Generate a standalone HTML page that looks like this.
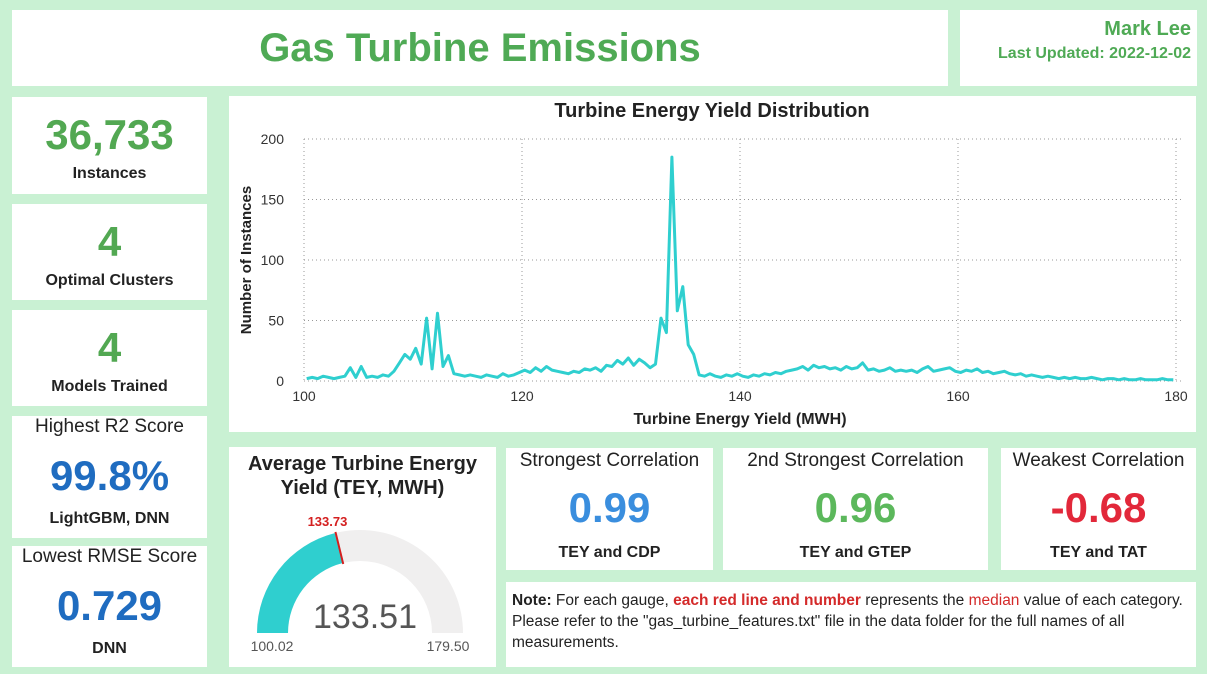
<!DOCTYPE html>
<html><head><meta charset="utf-8"><style>
body{margin:0;width:1207px;height:674px;background:#c9f1d3;font-family:"Liberation Sans","DejaVu Sans",sans-serif;position:relative;overflow:hidden}
.p{position:absolute;background:#fff}
.c{text-align:center}
.big{font-weight:bold;color:#52a852}
.lbl{font-weight:bold;font-size:16px;color:#222}
</style></head><body>
<div class="p c" style="left:12px;top:10px;width:936px;height:76px">
<div class="big" style="font-size:40px;line-height:76px;color:#4faa55">Gas Turbine Emissions</div></div>
<div class="p" style="left:960px;top:10px;width:237px;height:76px;text-align:right">
<div style="font-weight:bold;color:#4faa55;font-size:20px;margin:8px 6px 0 0">Mark Lee</div>
<div style="font-weight:bold;color:#4faa55;font-size:16px;margin:4px 6px 0 0">Last Updated: 2022-12-02</div></div>

<div class="p c" style="left:12px;top:97px;width:195px;height:97px"><div class="big" style="font-size:42px;margin-top:14px">36,733</div><div class="lbl" style="margin-top:6px">Instances</div></div>
<div class="p c" style="left:12px;top:204px;width:195px;height:96px"><div class="big" style="font-size:42px;margin-top:14px">4</div><div class="lbl" style="margin-top:6px">Optimal Clusters</div></div>
<div class="p c" style="left:12px;top:310px;width:195px;height:96px"><div class="big" style="font-size:42px;margin-top:14px">4</div><div class="lbl" style="margin-top:6px">Models Trained</div></div>
<div class="p c" style="left:12px;top:416px;width:195px;height:122px"><div style="font-size:19px;color:#222;margin-top:0px">Highest R2 Score</div><div style="font-size:42px;font-weight:bold;color:#1f6cc0;margin-top:14px">99.8%</div><div class="lbl" style="margin-top:10px">LightGBM, DNN</div></div>
<div class="p c" style="left:12px;top:546px;width:195px;height:121px"><div style="font-size:19px;color:#222;margin-top:0px">Lowest RMSE Score</div><div style="font-size:42px;font-weight:bold;color:#1f6cc0;margin-top:14px">0.729</div><div class="lbl" style="margin-top:10px">DNN</div></div>

<div class="p" style="left:229px;top:96px;width:967px;height:336px"><svg id="hist" width="967" height="336"></svg></div>

<div class="p c" style="left:229px;top:447px;width:267px;height:220px">
<div style="font-weight:bold;font-size:20px;color:#222;margin-top:5px;line-height:24px">Average Turbine Energy<br>Yield (TEY, MWH)</div>
<svg id="gauge" width="267" height="170" style="position:absolute;left:0;top:50px"></svg></div>

<div class="p c" style="left:506px;top:448px;width:207px;height:122px"><div style="font-size:19px;color:#222;margin-top:2px">Strongest Correlation</div><div style="font-size:42px;font-weight:bold;color:#3a8ede;margin-top:12px">0.99</div><div class="lbl" style="margin-top:12px">TEY and CDP</div></div>
<div class="p c" style="left:723px;top:448px;width:265px;height:122px"><div style="font-size:19px;color:#222;margin-top:2px">2nd Strongest Correlation</div><div style="font-size:42px;font-weight:bold;color:#5cb85c;margin-top:12px">0.96</div><div class="lbl" style="margin-top:12px">TEY and GTEP</div></div>
<div class="p c" style="left:1001px;top:448px;width:195px;height:122px"><div style="font-size:19px;color:#222;margin-top:2px">Weakest Correlation</div><div style="font-size:42px;font-weight:bold;color:#e2283a;margin-top:12px">-0.68</div><div class="lbl" style="margin-top:12px">TEY and TAT</div></div>

<div class="p" style="left:506px;top:582px;width:690px;height:85px;font-size:15.5px;line-height:21px;color:#222">
<div style="padding:8px 6px 0 6px"><b>Note:</b> For each gauge, <b style="color:#d42a2a">each red line and number</b> represents the <span style="color:#d42a2a">median</span> value of each category. Please refer to the "gas_turbine_features.txt" file in the data folder for the full names of all measurements.</div></div>

<script>
const binStart = 100, binWidth = 0.5;
const counts = [2,3,2,4,3,2,3,4, 11,3,12,3,4,3,5,4, 8,15,22,18,27,14, 52,10,56,12, 21,6,5,4,5,4,
3,5,4,3,6,4,5,7, 9,7,11,8,12,9,8,7, 6,8,7,10,9,11,8,13, 12,17,14,19,13,18,15,11,
14,52,40,185,58,78,30,22, 5,4,6,4,3,5,4,6, 4,3,5,4,6,5,7,6,8,9, 10,12,9,13,11,12,10,11,9,12,
10,11,15,9,10,8,9,11,8,9, 8,9,7,10,12,8,9,10,11,8, 7,9,8,10,7,8,6,7,8,6, 5,6,4,5,4,3,4,3,2,3,
2,3,2,2,3,2,1,2,2,1, 2,1,1,2,1,1,1,2,1,1];
const xTicks = [100,120,140,160,180];
const yTicks = [0,50,100,150,200];
const gaugeMin = 100.02, gaugeMax = 179.50, gaugeValue = 133.51, gaugeMedian = 133.73;

const NS='http://www.w3.org/2000/svg';
function mk(p,t,a){const e=document.createElementNS(NS,t);for(const k in a)e.setAttribute(k,a[k]);p.appendChild(e);return e;}
const svg=document.getElementById('hist');
const X0=75,X1=947,Y0=285,Y1=43;
const xs=v=>X0+(v-100)/80*(X1-X0);
const ys=v=>Y0-(v/200)*(Y0-Y1);
let t=mk(svg,'text',{x:483,y:21,'text-anchor':'middle','font-size':20,'font-weight':'bold',fill:'#222'});t.textContent='Turbine Energy Yield Distribution';

xTicks.forEach(v=>{const g=mk(svg,'line',{x1:xs(v),x2:xs(v),y1:Y1,y2:Y0,stroke:'#999','stroke-dasharray':'1 3'});

const l=mk(svg,'text',{x:xs(v),y:Y0+20,'text-anchor':'middle','font-size':14,fill:'#333'});l.textContent=v;
});
yTicks.forEach(v=>{const g=mk(svg,'line',{x1:X0,x2:X1+8,y1:ys(v),y2:ys(v),stroke:'#999','stroke-dasharray':'1 3'});

const l=mk(svg,'text',{x:55,y:ys(v)+5,'text-anchor':'end','font-size':14,fill:'#333'});l.textContent=v;
});
let xt=mk(svg,'text',{x:511,y:328,'text-anchor':'middle','font-size':16,'font-weight':'bold',fill:'#222'});xt.textContent='Turbine Energy Yield (MWH)';

let yt=mk(svg,'text',{x:0,y:0,'text-anchor':'middle','font-size':15,'font-weight':'bold',fill:'#222',transform:'translate(22,164) rotate(-90)'});yt.textContent='Number of Instances';

let d='';counts.forEach((c,i)=>{d+=(i?'L':'M')+xs(binStart+i*binWidth+binWidth/2).toFixed(1)+','+ys(c).toFixed(1);});
const line=mk(svg,'path',{d:d,fill:'none',stroke:'#2fcfcf','stroke-width':3,'stroke-linejoin':'round'});


const g=document.getElementById('gauge');
const cx=131,cy=136,R=103,r=72;
const pt=(f,rad)=>[cx-rad*Math.cos(Math.PI*f),cy-rad*Math.sin(Math.PI*f)];
function arc(f0,f1){const a=pt(f0,R),b=pt(f1,R),c=pt(f1,r),e=pt(f0,r);
return `M${a}A${R},${R} 0 0 1 ${b}L${c}A${r},${r} 0 0 0 ${e}Z`;}
const bg=mk(g,'path',{d:arc(0,1),fill:'#f0efef'});
const fv=(gaugeValue-gaugeMin)/(gaugeMax-gaugeMin);
const fg=mk(g,'path',{d:arc(0,fv),fill:'#2fcfcf'});
const fm=(gaugeMedian-gaugeMin)/(gaugeMax-gaugeMin);
const m1=pt(fm,R+1),m2=pt(fm,r-1);
const ml=mk(g,'line',{x1:m1[0],y1:m1[1],x2:m2[0],y2:m2[1],stroke:'#d42020','stroke-width':2});
let mt=mk(g,'text',{x:m1[0]-8,y:m1[1]-6,'text-anchor':'middle','font-size':13,'font-weight':'bold',fill:'#d42020'});mt.textContent=gaugeMedian.toFixed(2);

let vt=mk(g,'text',{x:cx+5,y:cy-5,'text-anchor':'middle','font-size':34,fill:'#555'});vt.textContent=gaugeValue.toFixed(2);

let lo=mk(g,'text',{x:cx-R+15,y:cy+18,'text-anchor':'middle','font-size':14,fill:'#555'});lo.textContent=gaugeMin.toFixed(2);

let hi=mk(g,'text',{x:cx+R-15,y:cy+18,'text-anchor':'middle','font-size':14,fill:'#555'});hi.textContent=gaugeMax.toFixed(2);

</script>
</body></html>
